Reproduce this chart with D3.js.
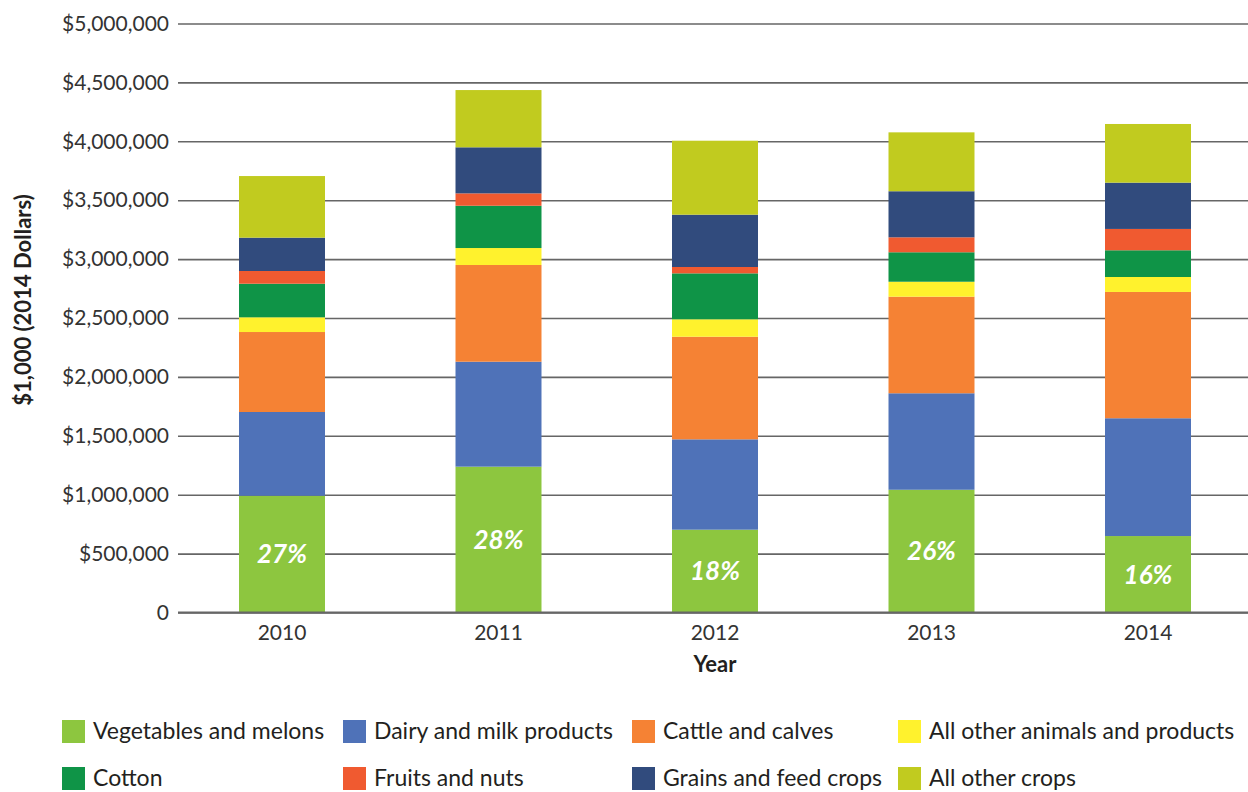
<!DOCTYPE html>
<html>
<head>
<meta charset="utf-8">
<title>farm receipts by commodity</title>
<script src="https://cdn.jsdelivr.net/npm/d3@7"></script>
<style>
    body{
        margin:0;
        background:#fff;
        font-family:Lato, "Noto Sans", sans-serif;
    }
    text{
        font-family:Lato, "Noto Sans", sans-serif;
    }
    .grid line{
        stroke:#666;
        stroke-width:1.6px;
    }
    .grid text{
        fill:#333;
        font-size:21px;
    }
    .xlab text{
        fill:#333;
        font-size:21px;
    }
    .legend text{
        fill:#231f20;
        font-size:23px;
    }
</style>
</head>
<body>
<div id="chart"></div>
<script>

var years = ["2010","2011","2012","2013","2014"]

var series = ["Vegetables and melons","Dairy and milk products","Cattle and calves","All other animals and products","Cotton","Fruits and nuts","Grains and feed crops","All other crops"]

var colors = ["#8dc63f","#4f72b8","#f58234","#fff22d","#0f9447","#f05a30","#314b7d","#c1cb1f"]

// values in $1,000 (2014 dollars)
var vegetables  = [991000, 1238000, 703000, 1042000, 649000]
var dairy       = [711000, 891000, 767000, 819000, 1000000]
var cattle      = [679000, 821000, 871000, 820000, 1072000]
var otherAnimal = [125000, 144000, 148000, 127000, 127000]
var cotton      = [285000, 359000, 390000, 250000, 227000]
var fruits      = [108000, 105000, 54000, 127000, 181000]
var grains      = [283000, 391000, 444000, 391000, 393000]
var otherCrops  = [523000, 486000, 628000, 500000, 498000]

var vegShare = ["27%","28%","18%","26%","16%"]

var yTicks = [0,500000,1000000,1500000,2000000,2500000,3000000,3500000,4000000,4500000,5000000]

var cols = [vegetables,dairy,cattle,otherAnimal,cotton,fruits,grains,otherCrops]
var data = years.map(function(y,i){
    var row = {year:y}
    series.forEach(function(s,j){ row[s] = cols[j][i] })
    return row
})

var W = 1248, H = 792
var svg = d3.select("#chart").append("svg").attr("width",W).attr("height",H)

var x = d3.scaleBand()
    .domain(years)
    .range([173.75, 1256.25])
    .paddingInner(0.6028)
    .paddingOuter(0.3014)

var y = d3.scaleLinear()
    .domain([0,5000000])
    .range([612.5, 23.5])

var gridLeft = 178
var yAxis = d3.axisLeft(y)
    .tickValues(yTicks)
    .tickSize(-(W-gridLeft))
    .tickPadding(9)
    .tickFormat(function(d){ return d==0 ? "0" : "$"+d3.format(",")(d) })

svg.append("g")
    .attr("class","grid")
    .attr("transform","translate("+gridLeft+",0)")
    .call(yAxis)
    .call(function(g){ g.select(".domain").remove() })
    .attr("font-family",null)

var stack = d3.stack().keys(series)
var layers = stack(data)

svg.selectAll(".serie")
    .data(layers)
    .enter().append("g")
    .attr("class","serie")
    .attr("fill",function(d,i){ return colors[i] })
    .selectAll("rect")
    .data(function(d){ return d })
    .enter().append("rect")
    .attr("x",function(d){ return x(d.data.year) })
    .attr("y",function(d){ return y(d[1]) })
    .attr("height",function(d){ return y(d[0]) - y(d[1]) })
    .attr("width",x.bandwidth())

// baseline
svg.append("line")
    .attr("x1",gridLeft).attr("x2",W)
    .attr("y1",y(0)).attr("y2",y(0))
    .attr("stroke","#666").attr("stroke-width",2.2)

// share labels inside the vegetables segment
svg.selectAll(".share")
    .data(layers[0])
    .enter().append("text")
    .attr("class","share")
    .attr("x",function(d){ return x(d.data.year) + x.bandwidth()/2 })
    .attr("y",function(d){ return (y(d[0]) + y(d[1]))/2 })
    .attr("dy","0.36em")
    .attr("text-anchor","middle")
    .attr("fill","#fff")
    .style("font-size","26px")
    .style("font-weight","bold")
    .style("font-style","italic")
    .text(function(d,i){ return vegShare[i] })

var xAxis = d3.axisBottom(x).tickSize(0).tickPadding(13)
svg.append("g")
    .attr("class","xlab")
    .attr("transform","translate(0,"+y(0)+")")
    .call(xAxis)
    .call(function(g){ g.select(".domain").remove() })
    .attr("font-family",null)

svg.append("text")
    .attr("x",715).attr("y",672)
    .attr("text-anchor","middle")
    .attr("fill","#231f20")
    .style("font-size","22px")
    .style("font-weight","bold")
    .text("Year")

svg.append("text")
    .attr("transform","translate(31,300) rotate(-90)")
    .attr("text-anchor","middle")
    .attr("fill","#231f20")
    .style("font-size","22px")
    .style("font-weight","bold")
    .text("$1,000 (2014 Dollars)")

// legend, 4 columns x 2 rows
var legX = [62,343,632,898]
var legY = [720,767]
var leg = svg.append("g").attr("class","legend")
    .selectAll("g")
    .data(series)
    .enter().append("g")
    .attr("transform",function(d,i){ return "translate("+legX[i%4]+","+legY[Math.floor(i/4)]+")" })

leg.append("rect")
    .attr("width",23).attr("height",23)
    .attr("fill",function(d,i){ return colors[i] })

leg.append("text")
    .attr("x",31).attr("y",11.5)
    .attr("dy","0.34em")
    .text(function(d){ return d })

</script>
</body>
</html>
